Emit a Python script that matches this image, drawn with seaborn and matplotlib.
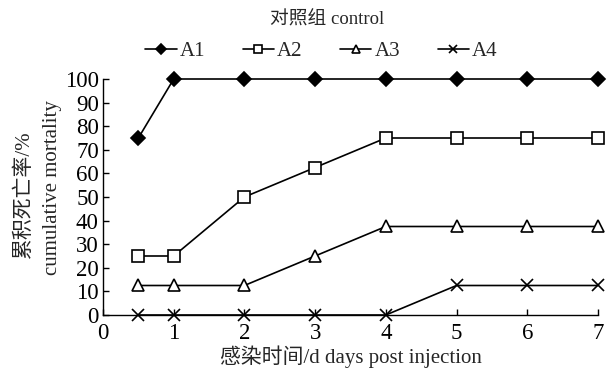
import pandas as pd
import matplotlib.pyplot as plt
import seaborn as sns

# days post injection
days = [0.5, 1, 2, 3, 4, 5, 6, 7]
a1 = [75, 100, 100, 100, 100, 100, 100, 100]
a2 = [25, 25, 50, 62.5, 75, 75, 75, 75]
a3 = [12.5, 12.5, 12.5, 25, 37.5, 37.5, 37.5, 37.5]
a4 = [0, 0, 0, 0, 0, 12.5, 12.5, 12.5]
groups = ['A1', 'A2', 'A3', 'A4']

df = pd.DataFrame({'day': days * 4,
                   'mortality': a1 + a2 + a3 + a4,
                   'group': [g for g in groups for _ in days]})

sns.set_style('ticks')
plt.rcParams['font.family'] = ['Liberation Serif', 'Noto Sans CJK SC']
plt.rcParams['font.size'] = 15

fig = plt.figure(figsize=(6.11, 3.73), dpi=100)
ax = fig.add_axes([0.1686, 0.1555, 0.810, 0.6327])

styles = {'A1': dict(marker='D', mfc='black', ms=7.5),
          'A2': dict(marker='s', mfc='white', ms=9),
          'A3': dict(marker='^', mfc='white', ms=9),
          'A4': dict(marker='x', mfc='none', ms=9)}

for g in groups:
    sub = df[df['group'] == g]
    sns.lineplot(data=sub, x='day', y='mortality', ax=ax, color='black',
                 lw=1.2, mec='black', mew=1.2, label=g, clip_on=False, **styles[g])

ax.set_xlim(0, 7)
ax.set_ylim(0, 100)
ax.set_xticks(range(0, 8))
ax.set_yticks(range(0, 101, 10))
ax.tick_params(direction='in', length=4, width=1, labelsize=16.5, colors='black')
ax.tick_params(axis='x', pad=6)
ax.tick_params(axis='y', pad=3)
for s in ['top', 'right']:
    ax.spines[s].set_visible(False)
for s in ['left', 'bottom']:
    ax.spines[s].set_linewidth(1)
    ax.spines[s].set_color('black')

ax.set_xlabel('感染时间/d days post injection', fontsize=15, labelpad=1)
ax.set_ylabel('')
ax.text(-0.160, 0.513, '累积死亡率/%', transform=ax.transAxes, rotation=90,
        ha='center', va='center', fontsize=15)
ax.text(-0.103, 0.542, 'cumulative mortality', transform=ax.transAxes, rotation=90,
        ha='center', va='center', fontsize=15)

ax.legend(loc='center', bbox_to_anchor=(0.526, 0.863), bbox_transform=fig.transFigure,
          ncol=4, frameon=False, fontsize=15, handlelength=1.5, handletextpad=0.15,
          columnspacing=1.8, markerscale=0.7, borderaxespad=0, borderpad=0)
fig.text(0.535, 0.946, '对照组 control', ha='center', va='center', fontsize=13.5)

fig.savefig('out.png', dpi=100)
